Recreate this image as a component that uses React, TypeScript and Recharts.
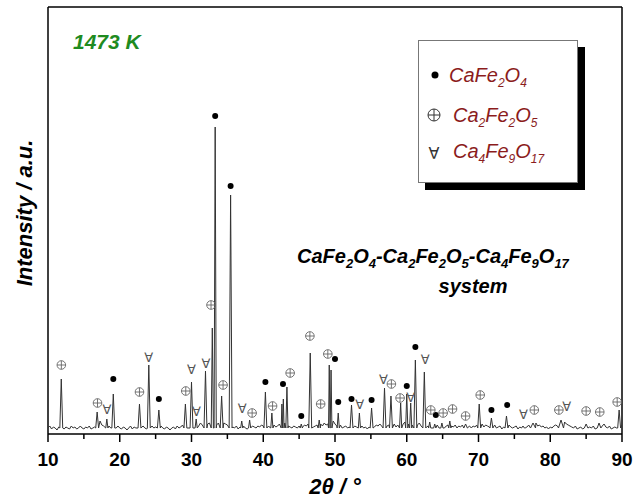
import { ComposedChart, Line, Scatter, XAxis, YAxis, ReferenceLine } from 'recharts';

// 2θ range and intensity range (a.u.)
const X_MIN = 10;
const X_MAX = 90;
const Y_MAX = 427;
const BASE = 6;

const xTicks = [10, 15, 20, 25, 30, 35, 40, 45, 50, 55, 60, 65, 70, 75, 80, 85, 90];

// background counts read every 0.25° from 10° to 90° (one row = 5°)
const bgStart = 10;
const bgStep = 0.25;
const background = [
  6, 8, 5, 7, 6, 4, 7, 9, 6, 5, 7, 6, 5, 8, 6, 7, 5, 6, 8, 6,
  5, 7, 6, 8, 5, 6, 7, 9, 11, 13, 9, 8, 7, 6, 8, 6, 7, 5, 6, 8,
  6, 5, 7, 6, 4, 6, 8, 5, 7, 6, 5, 7, 6, 8, 6, 5, 7, 6, 8, 6,
  7, 5, 6, 8, 6, 5, 7, 6, 4, 6, 7, 5, 8, 6, 7, 9, 7, 8, 6, 9,
  8, 10, 7, 9, 8, 11, 9, 10, 12, 10, 11, 14, 12, 10, 9, 11, 10, 9, 11, 10,
  9, 11, 8, 7, 6, 8, 5, 7, 6, 8, 6, 5, 7, 6, 8, 7, 6, 8, 7, 9,
  8, 9, 7, 8, 6, 8, 9, 7, 8, 10, 9, 12, 11, 9, 8, 7, 6, 8, 7, 6,
  8, 6, 7, 9, 8, 10, 8, 9, 7, 8, 9, 7, 10, 8, 11, 9, 10, 12, 11, 13,
  10, 8, 7, 9, 6, 7, 8, 6, 7, 9, 6, 8, 7, 5, 7, 8, 6, 7, 5, 7,
  6, 8, 7, 9, 8, 10, 8, 9, 10, 8, 9, 7, 8, 10, 7, 9, 11, 9, 10, 12,
  11, 10, 12, 9, 11, 10, 9, 11, 8, 10, 9, 7, 8, 9, 6, 8, 7, 9, 6, 8,
  7, 6, 8, 9, 6, 8, 7, 9, 6, 8, 7, 9, 8, 10, 7, 8, 6, 8, 7, 9,
  8, 9, 10, 7, 9, 8, 7, 6, 8, 9, 6, 7, 8, 5, 7, 6, 8, 9, 7, 6,
  7, 8, 5, 7, 6, 8, 6, 7, 9, 8, 10, 9, 11, 8, 9, 7, 8, 6, 7, 5,
  7, 6, 8, 9, 8, 10, 11, 13, 12, 10, 9, 8, 7, 6, 8, 5, 6, 7, 5, 7,
  8, 9, 7, 6, 8, 5, 6, 7, 9, 8, 10, 7, 6, 8, 5, 6, 7, 6, 8, 7,
  9,
];

// peaks: [2θ, intensity, half width]
const peaks: [number, number, number][] = [
  [11.85, 55, 0.2], [16.85, 22, 0.2], [18.2, 15, 0.15], [19.1, 40, 0.2],
  [22.75, 30, 0.2], [24.05, 69, 0.2], [25.45, 24, 0.2], [29.15, 30, 0.2],
  [30.0, 52, 0.2], [30.65, 15, 0.15], [31.95, 63, 0.2], [32.9, 106, 0.15],
  [33.3, 307, 0.15], [34.2, 38, 0.2], [35.45, 239, 0.2], [37.0, 13, 0.15],
  [38.1, 14, 0.15], [40.3, 42, 0.2], [41.2, 21, 0.15], [42.6, 30, 0.1],
  [42.8, 35, 0.1], [43.3, 47, 0.15], [45.3, 10, 0.15], [46.55, 81, 0.2],
  [47.8, 14, 0.15], [49.2, 69, 0.1], [49.45, 64, 0.12], [50.45, 21, 0.15],
  [52.3, 29, 0.2], [53.4, 21, 0.15], [55.1, 26, 0.2], [56.9, 46, 0.2],
  [57.8, 38, 0.2], [59.15, 31, 0.15], [60.0, 40, 0.15], [60.55, 31, 0.15],
  [61.2, 74, 0.2], [62.45, 62, 0.2], [63.2, 12, 0.15], [63.9, 10, 0.15],
  [64.9, 11, 0.15], [66.0, 13, 0.15], [68.2, 10, 0.25], [70.1, 30, 0.2],
  [71.8, 16, 0.2], [73.9, 18, 0.2], [76.2, 8, 0.2], [77.6, 11, 0.35],
  [81.5, 14, 0.35], [85.0, 10, 0.25], [86.8, 11, 0.25], [89.6, 24, 0.2],
];

// phase markers: [2θ, marker height]
const cafe2o4Marks: [number, number][] = [
  [19.1, 55], [25.45, 35], [33.3, 318], [35.45, 248], [40.3, 52], [42.75, 50],
  [45.3, 18], [50.0, 75], [50.45, 32], [52.3, 35], [55.1, 34], [60.0, 48],
  [61.2, 87], [64.05, 19], [71.8, 24], [74.0, 29],
];
const ca2fe2o5Marks: [number, number][] = [
  [11.86, 69], [16.9, 31], [22.75, 42], [29.2, 43], [32.72, 129], [34.4, 49],
  [38.45, 21], [41.3, 28], [43.75, 61], [46.5, 98], [48.0, 30], [49.0, 80],
  [57.86, 50], [59.07, 36], [63.35, 24], [65.07, 21], [66.38, 25], [68.2, 18],
  [70.24, 39], [77.78, 24], [81.2, 24], [85.0, 23], [86.9, 22], [89.33, 32],
];
const ca4fe9o17Marks: [number, number][] = [
  [18.2, 25], [24.05, 77], [30.0, 65], [30.7, 23], [32.0, 71], [37.05, 26],
  [53.44, 30], [56.74, 55], [60.56, 37], [62.56, 75], [76.25, 20], [82.3, 28],
];

const profile = (() => {
  const pts: { x: number; y: number }[] = [];
  background.forEach((v, i) => {
    const x = bgStart + i * bgStep;
    if (!peaks.some(([p, , w]) => Math.abs(x - p) <= w + 0.05)) pts.push({ x, y: v });
  });
  peaks.forEach(([p, h, w]) => {
    pts.push({ x: p - w, y: BASE }, { x: p, y: h }, { x: p + w, y: BASE });
  });
  return pts.sort((a, b) => a.x - b.x);
})();

const toPts = (arr: [number, number][]) => arr.map(([x, y]) => ({ x, y }));

const FONT = '"Liberation Sans", Arial, sans-serif';
const RED = '#8b1c1c';

// "CaFe_2O_4" -> tspans with subscripts
const formula = (s: string, subSize: number, shift = 5) => {
  let down = false;
  return s
    .split(/(_\d+)/)
    .filter(Boolean)
    .map((part, i) => {
      if (part.startsWith('_')) {
        down = true;
        return (
          <tspan key={i} dy={shift} fontSize={subSize}>
            {part.slice(1)}
          </tspan>
        );
      }
      const dy = down ? -shift : 0;
      down = false;
      return (
        <tspan key={i} dy={dy}>
          {part}
        </tspan>
      );
    });
};

const XTick = (props: any) => {
  const { x, y, payload } = props;
  const major = payload.value % 10 === 0;
  return (
    <g>
      <line x1={x} x2={x} y1={y} y2={y + (major ? 8 : 5)} stroke="#000" strokeWidth={1.5} />
      {major && (
        <text x={x} y={y + 32} textAnchor="middle" fontFamily={FONT} fontWeight="bold" fontSize={19} fill="#000">
          {payload.value}
        </text>
      )}
    </g>
  );
};

const DotMark = (p: any) => <circle cx={p.cx} cy={p.cy} r={3} fill="#000" />;
const PlusMark = (p: any) => (
  <g stroke="#666" strokeWidth={0.9} fill="none">
    <circle cx={p.cx} cy={p.cy} r={4.3} />
    <line x1={p.cx - 4.3} x2={p.cx + 4.3} y1={p.cy} y2={p.cy} />
    <line x1={p.cx} x2={p.cx} y1={p.cy - 4.3} y2={p.cy + 4.3} />
  </g>
);
const ForAllMark = (p: any) => (
  <text x={p.cx} y={p.cy} textAnchor="middle" dominantBaseline="central" fontFamily="DejaVu Sans" fontSize={13} fill="#555">
    ∀
  </text>
);

export default function App() {
  return (
    <div style={{ position: 'absolute', left: 0, top: 0, width: 639, height: 499, background: '#fff' }}>
      <ComposedChart width={639} height={499} margin={{ top: 7, right: 17, bottom: 35, left: 48 }}>
        <XAxis
          dataKey="x"
          type="number"
          domain={[X_MIN, X_MAX]}
          ticks={xTicks}
          interval={0}
          tick={(p: any) => <XTick {...p} />}
          tickLine={false}
          tickSize={0}
          tickMargin={0}
          height={30}
          axisLine={{ stroke: '#000', strokeWidth: 1.5 }}
          allowDataOverflow
        />
        <YAxis hide type="number" domain={[0, Y_MAX]} allowDataOverflow />
        <ReferenceLine x={X_MIN} stroke="#000" strokeWidth={1.5} />
        <ReferenceLine x={X_MAX} stroke="#000" strokeWidth={1.5} />
        <ReferenceLine y={Y_MAX} stroke="#000" strokeWidth={1.5} />
        <Line data={profile} dataKey="y" type="linear" stroke="#333" strokeWidth={1} dot={false} isAnimationActive={false} />
        <Scatter data={toPts(cafe2o4Marks)} dataKey="y" shape={DotMark} isAnimationActive={false} />
        <Scatter data={toPts(ca2fe2o5Marks)} dataKey="y" shape={PlusMark} isAnimationActive={false} />
        <Scatter data={toPts(ca4fe9o17Marks)} dataKey="y" shape={ForAllMark} isAnimationActive={false} />
      </ComposedChart>
      <svg width={639} height={499} style={{ position: 'absolute', left: 0, top: 0, pointerEvents: 'none' }}>
        <text x={73} y={49} fontFamily={FONT} fontWeight="bold" fontStyle="italic" fontSize={21} fill="#1f8b1f">
          1473 K
        </text>
        <text
          x={32}
          y={213}
          transform="rotate(-90 32 213)"
          textAnchor="middle"
          fontFamily={FONT}
          fontWeight="bold"
          fontStyle="italic"
          fontSize={22}
        >
          Intensity / a.u.
        </text>
        <text x={335} y={494} textAnchor="middle" fontFamily={FONT} fontWeight="bold" fontStyle="italic" fontSize={22}>
          2θ / °
        </text>

        {/* legend */}
        <rect x={425} y={47} width={160} height={143} fill="#000" />
        <rect x={418.5} y={40.5} width={159} height={142} fill="#fff" stroke="#777" strokeWidth={1} />
        <circle cx={435} cy={75} r={3.5} fill="#000" />
        <text x={449} y={82} fontFamily={FONT} fontStyle="italic" fontSize={20} fill={RED}>
          {formula('CaFe_2O_4', 12)}
        </text>
        <g stroke="#333" strokeWidth={1} fill="none">
          <circle cx={434} cy={115} r={6} />
          <line x1={428} x2={440} y1={115} y2={115} />
          <line x1={434} x2={434} y1={109} y2={121} />
        </g>
        <text x={453} y={122} fontFamily={FONT} fontStyle="italic" fontSize={20} fill={RED}>
          {formula('Ca_2Fe_2O_5', 12)}
        </text>
        <text x={434} y={153} textAnchor="middle" dominantBaseline="central" fontFamily="DejaVu Sans" fontSize={16} fill="#333">
          ∀
        </text>
        <text x={453} y={158} fontFamily={FONT} fontStyle="italic" fontSize={20} fill={RED}>
          {formula('Ca_4Fe_9O_17', 12)}
        </text>

        {/* system annotation */}
        <text x={297} y={263} fontFamily={FONT} fontWeight="bold" fontStyle="italic" fontSize={20} fill="#000">
          {formula('CaFe_2O_4-Ca_2Fe_2O_5-Ca_4Fe_9O_17', 13)}
        </text>
        <text x={473} y={293} textAnchor="middle" fontFamily={FONT} fontWeight="bold" fontStyle="italic" fontSize={20} fill="#000">
          system
        </text>
      </svg>
    </div>
  );
}
